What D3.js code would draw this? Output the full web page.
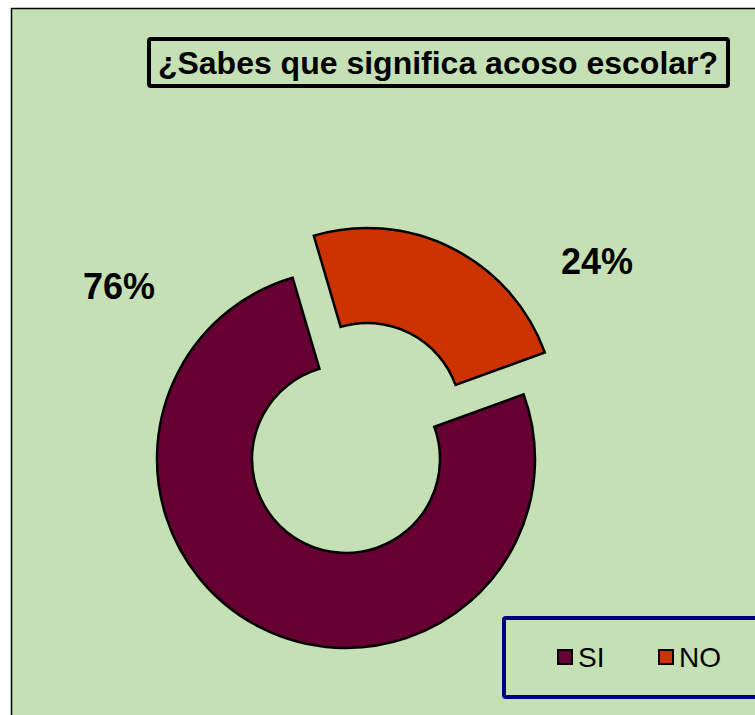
<!DOCTYPE html>
<html>
<head>
<meta charset="utf-8">
<script src="https://cdn.jsdelivr.net/npm/d3@7"></script>
<style>
  html, body { margin: 0; padding: 0; background: #fff; }
  svg { display: block; }
</style>
</head>
<body>
<script>
// datos de la encuesta
const categories = ["SI", "NO"];
const values = [76, 24];
const colors = ["#660033", "#CC3300"];
const title = "¿Sabes que significa acoso escolar?";

const width = 755, height = 715;
const cx = 346, cy = 459;
const outerR = 189, innerR = 94;
const explode = [0, 47];            // solo NO sale del anillo
const startDeg = 70;

const svg = d3.select("body").append("svg")
    .attr("width", width)
    .attr("height", height)
    .style("font-family", "Arial, 'Liberation Sans', sans-serif");

// area del grafico
svg.append("rect")
    .attr("x", 11.5).attr("y", 8.5)
    .attr("width", 760).attr("height", 720)
    .attr("fill", "#c5e0b4")
    .attr("stroke", "#000")
    .attr("stroke-width", 1.5);

// titulo
svg.append("rect")
    .attr("x", 149).attr("y", 39)
    .attr("width", 579).attr("height", 47)
    .attr("rx", 2)
    .attr("fill", "none")
    .attr("stroke", "#000")
    .attr("stroke-width", 4);

svg.append("text")
    .attr("x", 438).attr("y", 74)
    .attr("text-anchor", "middle")
    .attr("font-size", 32)
    .attr("font-weight", "bold")
    .text(title);

const pie = d3.pie()
    .sort(null)
    .startAngle(startDeg * Math.PI / 180)
    .endAngle(startDeg * Math.PI / 180 + 2 * Math.PI);

const arc = d3.arc().innerRadius(innerR).outerRadius(outerR);

const arcs = pie(values);

svg.append("g")
    .attr("transform", `translate(${cx},${cy})`)
  .selectAll("path")
  .data(arcs)
  .enter().append("path")
    .attr("transform", (d, i) => {
      const a = (d.startAngle + d.endAngle) / 2;
      return `translate(${Math.sin(a) * explode[i]},${-Math.cos(a) * explode[i]})`;
    })
    .attr("d", arc)
    .attr("fill", (d, i) => colors[i])
    .attr("stroke", "#000")
    .attr("stroke-width", 2.5)
    .attr("stroke-linejoin", "miter");

// etiquetas de porcentaje (posiciones como en Excel)
const labelPos = [[119, 299], [597, 274]];
svg.append("g").selectAll("text")
  .data(values)
  .enter().append("text")
    .attr("x", (d, i) => labelPos[i][0])
    .attr("y", (d, i) => labelPos[i][1])
    .attr("text-anchor", "middle")
    .attr("font-size", 36)
    .attr("font-weight", "bold")
    .text(d => d + "%");

// leyenda
svg.append("rect")
    .attr("x", 504).attr("y", 618)
    .attr("width", 270).attr("height", 79)
    .attr("rx", 2)
    .attr("fill", "none")
    .attr("stroke", "#000080")
    .attr("stroke-width", 4);

const legendX = [558, 659];
const lg = svg.append("g").selectAll("g")
  .data(categories)
  .enter().append("g")
    .attr("transform", (d, i) => `translate(${legendX[i]},650)`);

lg.append("rect")
    .attr("width", 14).attr("height", 14)
    .attr("fill", (d, i) => colors[i])
    .attr("stroke", "#000")
    .attr("stroke-width", 2);

lg.append("text")
    .attr("x", 20).attr("y", 17)
    .attr("font-size", 28)
    .text(d => d);
</script>
</body>
</html>
